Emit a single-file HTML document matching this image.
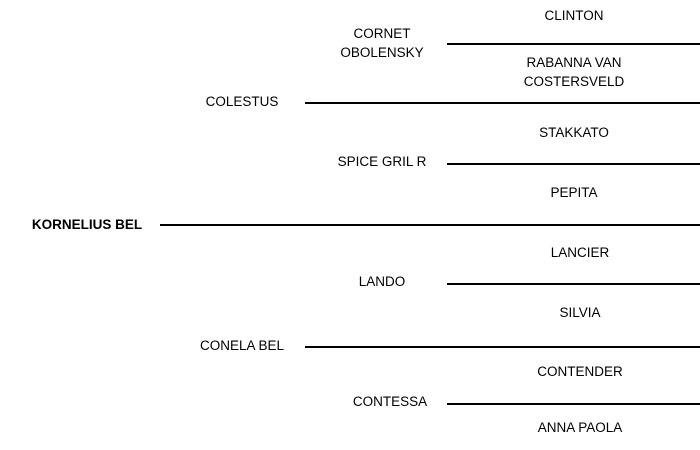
<!DOCTYPE html>
<html><head><meta charset="utf-8"><style>
html,body{margin:0;padding:0;background:#fff;}
body{width:700px;height:450px;position:relative;overflow:hidden;font-family:"Liberation Sans",Arial,sans-serif;font-size:13.5px;color:#000;}
.t{position:absolute;width:220px;margin-left:-110px;text-align:center;line-height:19px;white-space:nowrap;}
.l{position:absolute;height:2px;background:#000;right:0;}
</style></head><body>
<div class="l" style="left:160px;top:223.5px"></div>
<div class="l" style="left:305px;top:101.5px"></div>
<div class="l" style="left:305px;top:345.5px"></div>
<div class="l" style="left:447px;top:42.5px"></div>
<div class="l" style="left:447px;top:162.5px"></div>
<div class="l" style="left:447px;top:282.5px"></div>
<div class="l" style="left:447px;top:402.5px"></div>

<div class="t" style="left:87px;top:215px;font-weight:bold">KORNELIUS BEL</div>
<div class="t" style="left:242px;top:92px">COLESTUS</div>
<div class="t" style="left:242px;top:336px">CONELA BEL</div>
<div class="t" style="left:382px;top:24px">CORNET<br>OBOLENSKY</div>
<div class="t" style="left:382px;top:152px">SPICE GRIL R</div>
<div class="t" style="left:382px;top:272px">LANDO</div>
<div class="t" style="left:390px;top:392px">CONTESSA</div>
<div class="t" style="left:574px;top:6px">CLINTON</div>
<div class="t" style="left:574px;top:53px">RABANNA VAN<br>COSTERSVELD</div>
<div class="t" style="left:574px;top:123px">STAKKATO</div>
<div class="t" style="left:574px;top:183px">PEPITA</div>
<div class="t" style="left:580px;top:243px">LANCIER</div>
<div class="t" style="left:580px;top:303px">SILVIA</div>
<div class="t" style="left:580px;top:362px">CONTENDER</div>
<div class="t" style="left:580px;top:418px">ANNA PAOLA</div>
</body></html>
